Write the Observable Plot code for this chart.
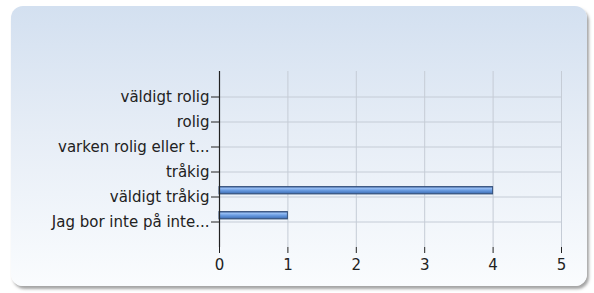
<!DOCTYPE html>
<html>
<head>
<meta charset="utf-8">
<script src="https://cdn.jsdelivr.net/npm/d3@7"></script>
<script src="https://cdn.jsdelivr.net/npm/@observablehq/plot@0.6"></script>
<style>
  html, body { margin: 0; padding: 0; background: #ffffff; }
  #wrap { position: relative; width: 594px; height: 293px; overflow: hidden; }
  #panel {
    position: absolute; left: 11px; top: 6px; width: 576px; height: 280px;
    border-radius: 12px;
    background: linear-gradient(to bottom, #d3e0f0 0%, #e6edf6 45%, #fafcfe 100%);
    box-shadow: 2px 3px 3px rgba(90,90,90,0.55);
  }
  #chart { position: absolute; left: 0; top: 0; }
  #chart svg text { font-size: 15px !important; font-family: "DejaVu Sans", Verdana, sans-serif; fill: #222; }
</style>
</head>
<body>
<div id="wrap"><div id="panel"></div><div id="chart"></div></div>
<script>
const categories = ["väldigt rolig", "rolig", "varken rolig eller t...", "tråkig", "väldigt tråkig", "Jag bor inte på inte..."];
const values = [0, 0, 0, 0, 4, 1];
const xTicks = [0, 1, 2, 3, 4, 5];

const data = categories.map((c, i) => ({category: c, value: values[i]}));

const chart = Plot.plot({
  width: 594,
  height: 293,
  marginLeft: 219,
  marginRight: 33,
  marginTop: 71,
  marginBottom: 46,
  style: {background: "transparent", fontFamily: "DejaVu Sans, Verdana, sans-serif", fontSize: "15px", color: "#222"},
  x: {domain: [0, 5], ticks: xTicks, label: null, tickFormat: d => String(d)},
  y: {domain: categories, type: "band", paddingInner: 0, paddingOuter: 0.5, label: null},
  marks: [
    Plot.gridX(xTicks.slice(1), {stroke: "#c5ccd6", strokeOpacity: 1}),
    Plot.gridY(categories, {stroke: "#c5ccd6", strokeOpacity: 1}),
    Plot.ruleY([0], {frameAnchor: "top", stroke: "#c5ccd6"}),
    Plot.barX(data.filter(d => d.value > 0), {
      x: "value", y: "category",
      insetTop: 2.6, insetBottom: 15.1,
      fill: "url(#barGrad)", stroke: "#34507c", strokeWidth: 1
    }),
    Plot.ruleX([0], {stroke: "#222", strokeWidth: 1.2}),
    Plot.ruleY([0], {frameAnchor: "bottom", stroke: "#222"}),
    Plot.axisY({tickSize: 8, tickPadding: 2, stroke: "#222", fill: "#222"}),
    Plot.axisX({ticks: xTicks, tickFormat: d => String(d), tickSize: 6, tickPadding: 6, stroke: "#222", fill: "#222"})
  ]
});

const ns = "http://www.w3.org/2000/svg";
const defs = document.createElementNS(ns, "defs");
const grad = document.createElementNS(ns, "linearGradient");
grad.setAttribute("id", "barGrad");
grad.setAttribute("x1", "0"); grad.setAttribute("y1", "0");
grad.setAttribute("x2", "0"); grad.setAttribute("y2", "1");
[["0", "#4e6fa4"], ["0.25", "#94bbf2"], ["0.5", "#6b9de2"], ["0.8", "#4e7fc6"], ["1", "#34507c"]].forEach(([o, c]) => {
  const s = document.createElementNS(ns, "stop");
  s.setAttribute("offset", o); s.setAttribute("stop-color", c);
  grad.appendChild(s);
});
defs.appendChild(grad);
chart.insertBefore(defs, chart.firstChild);

document.getElementById("chart").appendChild(chart);
</script>
</body>
</html>
